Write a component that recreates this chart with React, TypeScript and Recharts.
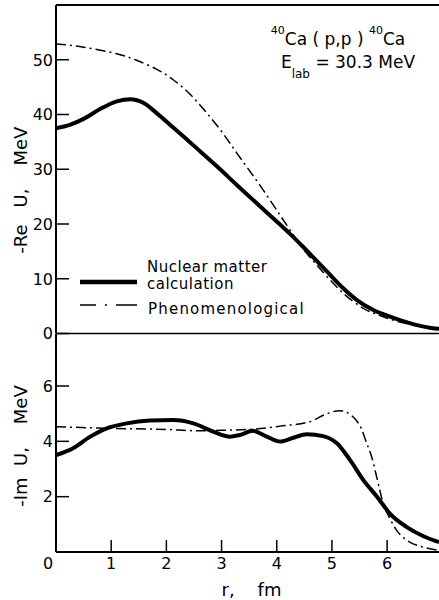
import React from 'react';
import { LineChart, Line, XAxis, YAxis, ReferenceLine, Legend, Label } from 'recharts';

// ---- Data ----
// Upper panel: -Re U (MeV) vs r (fm)
const reNuclearR = [0, 0.25, 0.5, 0.8, 1.1, 1.35, 1.59, 1.83, 2.07, 2.31, 2.62, 2.92, 3.29, 3.7, 4.06, 4.24, 4.48, 4.72, 4.96, 5.2, 5.44, 5.75, 6.05, 6.38, 6.6, 6.8, 6.94];
const reNuclearV = [37.5, 38.1, 39.2, 41.0, 42.4, 42.8, 42.1, 40.2, 38.1, 36.0, 33.2, 30.5, 27.0, 23.2, 19.9, 18.2, 15.8, 13.3, 10.8, 8.3, 6.2, 4.3, 3.1, 2.0, 1.4, 1.0, 0.85];
const rePhenoR = [0, 0.5, 1.1, 1.46, 1.82, 2.13, 2.43, 2.73, 3.03, 3.33, 3.7, 4.06, 4.3, 4.48, 4.84, 5.2, 5.57, 5.87, 6.23, 6.72, 6.94];
const rePhenoV = [52.9, 52.3, 51.1, 49.9, 48.3, 46.3, 43.7, 40.3, 36.5, 32.2, 27.0, 21.6, 18.0, 15.4, 11.2, 7.4, 4.6, 3.3, 2.1, 1.15, 0.9];

// Lower panel: -Im U (MeV) vs r (fm)
const imNuclearR = [0, 0.31, 0.62, 0.92, 1.28, 1.7, 2.12, 2.49, 2.85, 3.15, 3.33, 3.57, 3.82, 4.06, 4.3, 4.54, 4.84, 5.09, 5.33, 5.57, 5.82, 6.05, 6.35, 6.65, 6.94];
const imNuclearV = [3.5, 3.75, 4.17, 4.47, 4.65, 4.75, 4.77, 4.65, 4.35, 4.17, 4.23, 4.38, 4.17, 3.99, 4.13, 4.26, 4.19, 3.93, 3.32, 2.6, 1.99, 1.39, 0.91, 0.58, 0.36];
const imPhenoR = [0, 1.0, 2.0, 2.61, 3.0, 3.5, 4.06, 4.6, 4.9, 5.14, 5.38, 5.53, 5.63, 5.72, 5.81, 5.93, 6.05, 6.17, 6.41, 6.65, 6.94];
const imPhenoV = [4.53, 4.47, 4.43, 4.38, 4.4, 4.43, 4.55, 4.71, 4.99, 5.11, 4.89, 4.47, 3.93, 3.44, 2.72, 1.75, 1.21, 0.79, 0.36, 0.18, 0.06];

const xTicks = [0, 1, 2, 3, 4, 5, 6];
const reTicks = [0, 10, 20, 30, 40, 50];
const imTicks = [2, 4, 6];
const seriesNames = ['Nuclear matter calculation', 'Phenomenological'];

const toPoints = (rs: number[], vs: number[]) => rs.map((r, i) => ({ r, v: vs[i] }));
const reNuclear = toPoints(reNuclearR, reNuclearV);
const rePheno = toPoints(rePhenoR, rePhenoV);
const imNuclear = toPoints(imNuclearR, imNuclearV);
const imPheno = toPoints(imPhenoR, imPhenoV);

const FONT = "'DejaVu Sans', sans-serif";
const DASHDOT = '10 4 2 4';
const X_DOMAIN: [number, number] = [0, 6.94];

function YTick(props: any) {
  const { x, y, payload } = props;
  const ax = x + 3;
  return (
    <g>
      <line x1={ax} x2={ax + 13} y1={y} y2={y} stroke="#000" strokeWidth={1.5} />
      <text x={x} y={y} dy="0.36em" textAnchor="end" fontFamily={FONT} fontSize={16} fill="#000">
        {payload.value}
      </text>
    </g>
  );
}

function XTick(props: any) {
  const { x, y, payload } = props;
  const ay = y - 6;
  const dx = payload.value === 0 ? -8 : 0;
  return (
    <g>
      <line x1={x} x2={x} y1={ay} y2={ay - 12} stroke="#000" strokeWidth={1.5} />
      <text x={x + dx} y={y} dy="0.71em" textAnchor="middle" fontFamily={FONT} fontSize={16} fill="#000">
        {payload.value}
      </text>
    </g>
  );
}

function YTitle(props: any) {
  const { viewBox, text, shift } = props;
  const cx = 27;
  const cy = viewBox.y + viewBox.height / 2 + shift;
  return (
    <text
      x={cx}
      y={cy}
      transform={`rotate(-90 ${cx} ${cy})`}
      textAnchor="middle"
      fontFamily={FONT}
      fontSize={18}
      fill="#000"
      style={{ whiteSpace: 'pre' }}
    >
      {text}
    </text>
  );
}

function XTitle(props: any) {
  const { viewBox } = props;
  const cx = viewBox.x + viewBox.width / 2 + 4;
  const cy = viewBox.y + 44;
  return (
    <text x={cx} y={cy} textAnchor="middle" fontFamily={FONT} fontSize={18} fill="#000" style={{ whiteSpace: 'pre' }}>
      {'r,    fm'}
    </text>
  );
}

function LegendBox() {
  return (
    <svg width={260} height={70} style={{ display: 'block', overflow: 'visible' }}>
      <line x1={2} x2={59} y1={27} y2={27} stroke="#000" strokeWidth={4.5} />
      <text x={69} y={17} fontFamily={FONT} fontSize={15} letterSpacing={0.5} fill="#000">Nuclear matter</text>
      <text x={69} y={34} fontFamily={FONT} fontSize={15} letterSpacing={0.5} fill="#000">calculation</text>
      <line x1={2} x2={59} y1={50} y2={50} stroke="#000" strokeWidth={1.5} strokeDasharray="16 9 2 9 21 100" />
      <text x={70} y={59} fontFamily={FONT} fontSize={15} letterSpacing={1.2} fill="#000">{seriesNames[1]}</text>
    </svg>
  );
}

export default function App() {
  return (
    <div style={{ position: 'absolute', left: 0, top: 0, width: 439, height: 600, background: '#fff' }}>
      <div style={{ position: 'absolute', left: 0, top: 0 }}>
        <LineChart width={439} height={350} margin={{ top: 5, right: 0, bottom: 16.5, left: 0 }}>
          <XAxis dataKey="r" type="number" domain={X_DOMAIN} hide allowDataOverflow />
          <YAxis
            type="number"
            domain={[0, 60]}
            ticks={reTicks}
            width={56}
            tickSize={0}
            tickMargin={3}
            tickLine={false}
            axisLine={{ stroke: '#000', strokeWidth: 2 }}
            tick={<YTick />}
            interval={0}
          >
            <Label content={<YTitle text={'-Re   U,    MeV'} shift={21} />} />
          </YAxis>
          <ReferenceLine y={60} stroke="#000" strokeWidth={2} />
          <ReferenceLine y={0} stroke="#000" strokeWidth={1.5} />
          <Line data={rePheno} dataKey="v" name={seriesNames[1]} type="natural" stroke="#000" strokeWidth={1.5} strokeDasharray={DASHDOT} dot={false} isAnimationActive={false} />
          <Line data={reNuclear} dataKey="v" name={seriesNames[0]} type="monotone" stroke="#000" strokeWidth={4} dot={false} isAnimationActive={false} />
          <Legend
            layout="horizontal"
            verticalAlign="middle"
            align="center"
            wrapperStyle={{ position: 'absolute', left: 78, top: 255, width: 260, height: 70 }}
            content={() => <LegendBox />}
          />
        </LineChart>
      </div>
      <div style={{ position: 'absolute', left: 0, top: 334 }}>
        <LineChart width={439} height={266} margin={{ top: 0, right: 0, bottom: 0, left: 0 }}>
          <XAxis
            dataKey="r"
            type="number"
            domain={X_DOMAIN}
            ticks={xTicks}
            height={48}
            tickSize={0}
            tickMargin={6}
            tickLine={false}
            axisLine={{ stroke: '#000', strokeWidth: 2 }}
            tick={<XTick />}
            interval={0}
            allowDataOverflow
          >
            <Label content={<XTitle />} />
          </XAxis>
          <YAxis
            type="number"
            domain={[0, 7.88]}
            ticks={imTicks}
            width={56}
            tickSize={0}
            tickMargin={3}
            tickLine={false}
            axisLine={{ stroke: '#000', strokeWidth: 2 }}
            tick={<YTick />}
            interval={0}
          >
            <Label content={<YTitle text={'-Im  U,    MeV'} shift={3} />} />
          </YAxis>
          <Line data={imPheno} dataKey="v" name={seriesNames[1]} type="monotone" stroke="#000" strokeWidth={1.5} strokeDasharray={DASHDOT} dot={false} isAnimationActive={false} />
          <Line data={imNuclear} dataKey="v" name={seriesNames[0]} type="monotone" stroke="#000" strokeWidth={4} dot={false} isAnimationActive={false} />
        </LineChart>
      </div>
      <svg width={439} height={100} style={{ position: 'absolute', left: 0, top: 0, pointerEvents: 'none' }}>
        <text x={338} y={45} textAnchor="middle" fontFamily={FONT} fontSize={17} fill="#000" style={{ whiteSpace: 'pre' }}>
          <tspan fontSize={11} dy={-11}>40</tspan>
          <tspan dy={11}>{'Ca ( p,p ) '}</tspan>
          <tspan fontSize={11} dy={-11}>40</tspan>
          <tspan dy={11}>Ca</tspan>
        </text>
        <text x={348} y={68} textAnchor="middle" fontFamily={FONT} fontSize={17} fill="#000" style={{ whiteSpace: 'pre' }}>
          <tspan>E</tspan>
          <tspan fontSize={12} dy={10}>lab</tspan>
          <tspan dy={-10}>{' = 30.3 MeV'}</tspan>
        </text>
      </svg>
    </div>
  );
}
